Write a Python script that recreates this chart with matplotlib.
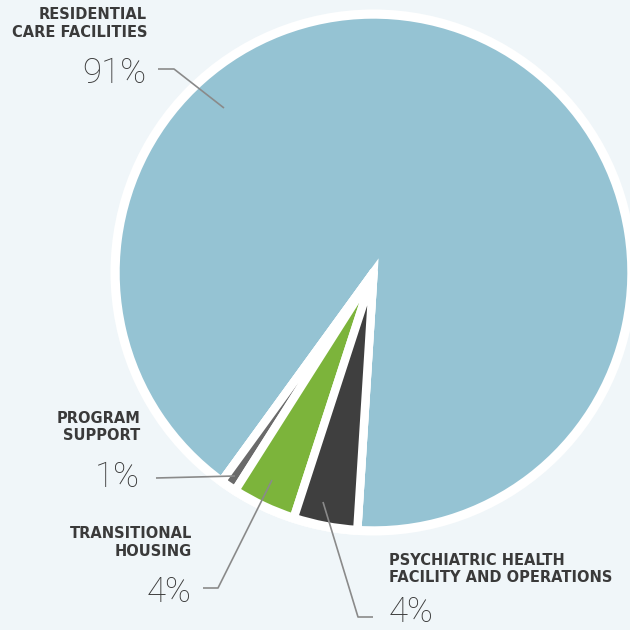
import numpy as np
import matplotlib.pyplot as plt
from matplotlib.patches import Circle, Wedge

# data (counterclockwise from the right edge of the big slice)
categories = ["RESIDENTIAL\nCARE FACILITIES", "PROGRAM\nSUPPORT",
              "TRANSITIONAL\nHOUSING", "PSYCHIATRIC HEALTH\nFACILITY AND OPERATIONS"]
shares = [91, 1, 4, 4]
pct_labels = ["91%", "1%", "4%", "4%"]
colors = ["#95c3d3", "#6a6a6a", "#7cb43b", "#3f3f3f"]

BG = "#f0f6f9"
TXT = "#3a3a3a"
LINE = "#8a8a8a"
H = 630
GAP = 4.2  # half of the white gap between slices, px

fig = plt.figure(figsize=(6.3, 6.3), dpi=100, facecolor=BG)
ax = fig.add_axes([0, 0, 1, 1])

cx, cy = 373.5, H - 272.5
disk = Circle((cx, cy), 263, facecolor="white", edgecolor="none", zorder=0)
ax.add_patch(disk)
wedges, _ = ax.pie(shares, colors=colors, startangle=266.4, counterclock=True,
                   center=(cx, cy), radius=258, frame=True,
                   wedgeprops=dict(edgecolor="white", linewidth=GAP * 2 * 72 / 100,
                                   joinstyle="round"))
wedges[0].set_zorder(1)
for w in wedges[1:]:
    w.set_zorder(3)

# white notch with a sharp apex cut into the big slice
big = wedges[0]
notch_from, notch_to = big.theta2 - 360, big.theta1
half = np.radians((notch_to - notch_from) / 2)
mid = np.radians((big.theta1 + big.theta2) / 2)
d = GAP / np.sin(half)
notch = Wedge((cx + d * np.cos(mid), cy + d * np.sin(mid)), 280,
              notch_from, notch_to, facecolor="white", edgecolor="none", zorder=2)
ax.add_patch(notch)
notch.set_clip_path(disk)

ax.set_xlim(0, 630)
ax.set_ylim(0, 630)
ax.set_aspect("equal")
ax.axis("off")


def px(x, y):
    return x, H - y


# category names: (right/left x, baselines), alignment
name_pos = [
    (147, [19.3, 36.7], "right"),
    (140, [423, 440], "right"),
    (192, [538, 555.7], "right"),
    (389, [565, 581.7], "left"),
]
pct_pos = [(146, 83, "right"), (140, 487, "right"), (191, 601.7, "right"), (389, 622, "left")]
leaders = [
    [(158, 69), (174, 69), (224, 108)],
    [(156, 478), (235, 476)],
    [(203, 588), (218, 588), (272, 480)],
    [(323, 502), (358, 617), (373, 617)],
]

for name, (x, ys, ha), (pxx, pyy, pha), pct, ld in zip(categories, name_pos, pct_pos, pct_labels, leaders):
    for line, yb in zip(name.split("\n"), ys):
        ax.text(*px(x, yb), line, ha=ha, va="baseline", fontsize=10.5,
                fontweight="bold", color=TXT, family="DejaVu Sans", zorder=6)
    ax.text(*px(pxx, pyy), pct, ha=pha, va="baseline", fontsize=25,
            fontweight="light", color=TXT, family=["Roboto", "DejaVu Sans"], zorder=6)
    xs = [p[0] for p in ld]
    ys2 = [H - p[1] for p in ld]
    ax.plot(xs, ys2, color=LINE, lw=1.2, zorder=5, solid_capstyle="butt")

fig.savefig("out.png", dpi=100, facecolor=BG)
